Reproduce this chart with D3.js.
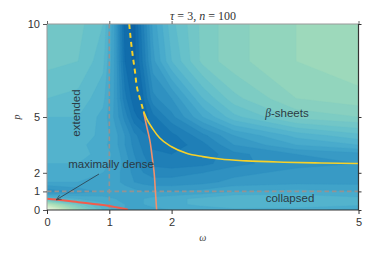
<!DOCTYPE html>
<html>
<head>
<meta charset="utf-8">
<script src="https://cdn.jsdelivr.net/npm/d3@7"></script>
<style>
  body { margin: 0; background: #fff; }
  svg { display: block; }
  text { font-family: "Liberation Sans", Arial, sans-serif; }
</style>
</head>
<body>
<div id="chart"></div>
<script>
// grid columns (omega) and rows (p) for the contour field
var omegaCols = [0, 0.5, 0.9, 1.1, 1.25, 1.4, 1.55, 1.7, 2.0, 2.5, 3, 4, 5];
var pRows = [0, 0.3, 0.6, 1, 1.5, 2, 2.5, 3, 3.5, 4, 5, 6, 8, 10];

// field level (0 light .. 1 dark), one row per p value
var fieldRows = [
  [0.02, 0.42, 0.60, 0.64, 0.66, 0.67, 0.67, 0.67, 0.66, 0.65, 0.64, 0.65, 0.67],
  [0.30, 0.52, 0.62, 0.65, 0.66, 0.66, 0.66, 0.65, 0.64, 0.62, 0.60, 0.60, 0.62],
  [0.58, 0.63, 0.65, 0.66, 0.66, 0.66, 0.66, 0.65, 0.64, 0.62, 0.60, 0.60, 0.62],
  [0.74, 0.71, 0.68, 0.67, 0.67, 0.68, 0.69, 0.69, 0.69, 0.68, 0.66, 0.65, 0.66],
  [0.66, 0.66, 0.67, 0.68, 0.70, 0.72, 0.73, 0.74, 0.74, 0.73, 0.71, 0.70, 0.70],
  [0.63, 0.64, 0.66, 0.68, 0.70, 0.73, 0.75, 0.76, 0.76, 0.75, 0.73, 0.71, 0.70],
  [0.63, 0.63, 0.65, 0.67, 0.70, 0.74, 0.77, 0.79, 0.80, 0.79, 0.76, 0.73, 0.72],
  [0.62, 0.62, 0.64, 0.67, 0.71, 0.75, 0.78, 0.80, 0.81, 0.80, 0.76, 0.72, 0.70],
  [0.61, 0.62, 0.65, 0.68, 0.72, 0.76, 0.79, 0.82, 0.83, 0.79, 0.72, 0.66, 0.63],
  [0.60, 0.61, 0.64, 0.68, 0.72, 0.77, 0.80, 0.82, 0.82, 0.76, 0.69, 0.62, 0.58],
  [0.60, 0.60, 0.64, 0.70, 0.76, 0.83, 0.86, 0.82, 0.76, 0.66, 0.58, 0.50, 0.48],
  [0.57, 0.58, 0.62, 0.70, 0.80, 0.86, 0.84, 0.76, 0.72, 0.60, 0.52, 0.45, 0.43],
  [0.53, 0.54, 0.59, 0.70, 0.84, 0.88, 0.80, 0.70, 0.60, 0.50, 0.46, 0.42, 0.40],
  [0.52, 0.53, 0.57, 0.70, 0.86, 0.88, 0.78, 0.68, 0.58, 0.50, 0.46, 0.42, 0.39]
];

// boundary lines [omega, p]
var yellowDashed = [[1.32, 10], [1.35, 9], [1.38, 8.2], [1.41, 7.5], [1.45, 6.5], [1.50, 5.9], [1.55, 5.3]];
var yellowSolid = [[1.55, 5.3], [1.60, 4.9], [1.70, 4.35], [1.81, 3.87], [2.0, 3.4], [2.24, 3.05], [2.5, 2.87],
  [2.78, 2.74], [3.2, 2.64], [3.8, 2.57], [4.4, 2.53], [5, 2.5]];
var orangeLine = [[1.55, 5.25], [1.60, 4.5], [1.65, 3.76], [1.69, 2.8], [1.72, 1.99], [1.74, 1], [1.76, 0]];
var redLine = [[0, 0.6], [0.25, 0.52], [0.5, 0.42], [0.75, 0.32], [1, 0.22], [1.15, 0.12], [1.3, 0.02]];

var xTicks = [0, 1, 2, 5];
var yTicks = [0, 1, 2, 5, 10];

var width = 374;
var height = 257;
var plotLeft = 47, plotRight = 358.5, plotTop = 24, plotBottom = 210;

var svg = d3.select('#chart').append('svg')
    .attr('width', width)
    .attr('height', height);

var xScale = d3.scaleLinear().domain([0, 5]).range([plotLeft, plotRight]);
var yScale = d3.scaleLinear().domain([0, 10]).range([plotBottom, plotTop]);

// grid index -> data value
var nx = omegaCols.length, ny = pRows.length;
var colScale = d3.scaleLinear().domain(d3.range(nx)).range(omegaCols).clamp(true);
var rowScale = d3.scaleLinear().domain(d3.range(ny)).range(pRows).clamp(true);

var values = [];
fieldRows.forEach(row => row.forEach(v => values.push(v)));

var step = 0.03;
var thresholds = d3.range(0, 1, step);
var color = d3.scaleSequential(d3.interpolateGnBu).domain([0, 1]);

var contours = d3.contours().size([nx, ny]).thresholds(thresholds)(values);

var proj = d3.geoTransform({
    point: function(x, y) {
        this.stream.point(xScale(colScale(x - 0.5)), yScale(rowScale(y - 0.5)));
    }
});

svg.append('clipPath').attr('id', 'plotClip')
    .append('rect')
    .attr('x', plotLeft).attr('y', plotTop)
    .attr('width', plotRight - plotLeft).attr('height', plotBottom - plotTop);

var plot = svg.append('g').attr('clip-path', 'url(#plotClip)');

plot.selectAll('path.band')
    .data(contours)
    .enter()
    .append('path')
    .attr('class', 'band')
    .attr('d', d3.geoPath(proj))
    .attr('fill', d => color(d.value + step / 2))
    .attr('stroke', d => color(d.value + step / 2))
    .attr('stroke-width', 0.3);

// reference dashed lines at omega = 1 and p = 1
plot.append('line')
    .attr('x1', xScale(1)).attr('x2', xScale(1))
    .attr('y1', plotTop).attr('y2', plotBottom)
    .attr('stroke', '#939393').attr('stroke-width', 1.6)
    .attr('stroke-dasharray', '4.5,3');

plot.append('line')
    .attr('x1', plotLeft).attr('x2', plotRight)
    .attr('y1', yScale(1)).attr('y2', yScale(1))
    .attr('stroke', '#939393').attr('stroke-width', 1.6)
    .attr('stroke-dasharray', '4.5,3');

var line = d3.line()
    .x(d => xScale(d[0]))
    .y(d => yScale(d[1]))
    .curve(d3.curveMonotoneY);

var lineX = d3.line()
    .x(d => xScale(d[0]))
    .y(d => yScale(d[1]))
    .curve(d3.curveMonotoneX);

plot.append('path').datum(orangeLine)
    .attr('d', line)
    .attr('fill', 'none').attr('stroke', '#f2906c').attr('stroke-width', 1.6);

plot.append('path').datum(redLine)
    .attr('d', lineX)
    .attr('fill', 'none').attr('stroke', '#f25c4c').attr('stroke-width', 2);

plot.append('path').datum(yellowDashed)
    .attr('d', line)
    .attr('fill', 'none').attr('stroke', '#f6d12a').attr('stroke-width', 2)
    .attr('stroke-dasharray', '5,4');

plot.append('path').datum(yellowSolid)
    .attr('d', lineX)
    .attr('fill', 'none').attr('stroke', '#f6d12a').attr('stroke-width', 1.6);

// spines
svg.append('line').attr('x1', plotLeft).attr('x2', plotRight).attr('y1', plotTop).attr('y2', plotTop)
    .attr('stroke', '#999').attr('stroke-width', 1);
svg.append('line').attr('x1', plotLeft).attr('x2', plotLeft).attr('y1', plotTop).attr('y2', plotBottom)
    .attr('stroke', '#999').attr('stroke-width', 1);
svg.append('line').attr('x1', plotLeft).attr('x2', plotRight).attr('y1', plotBottom).attr('y2', plotBottom)
    .attr('stroke', '#333').attr('stroke-width', 1.2);
svg.append('line').attr('x1', plotRight).attr('x2', plotRight).attr('y1', plotTop).attr('y2', plotBottom)
    .attr('stroke', '#333').attr('stroke-width', 1.2);

// axes
var xAxis = d3.axisBottom(xScale).tickValues(xTicks).tickSize(4).tickPadding(4).tickFormat(d3.format('d'));
var yAxis = d3.axisLeft(yScale).tickValues(yTicks).tickSize(4).tickPadding(3).tickFormat(d3.format('d'));
var xTop = d3.axisTop(xScale).tickValues(xTicks).tickSize(3).tickFormat('');
var yRight = d3.axisRight(yScale).tickValues(yTicks).tickSize(3).tickFormat('');

function styleAxis(g, tickColor) {
    g.select('.domain').remove();
    g.selectAll('.tick line').attr('stroke', tickColor);
    g.selectAll('.tick text')
        .attr('fill', '#333')
        .style('font-size', '11px')
        .style('font-family', '"Liberation Sans", Arial, sans-serif');
}

svg.append('g').attr('transform', `translate(0,${plotBottom})`).call(xAxis).call(g => styleAxis(g, '#333'));
svg.append('g').attr('transform', `translate(${plotLeft},0)`).call(yAxis).call(g => styleAxis(g, '#555'));
svg.append('g').attr('transform', `translate(0,${plotTop})`).call(xTop).call(g => styleAxis(g, '#666'));
svg.append('g').attr('transform', `translate(${plotRight},0)`).call(yRight).call(g => styleAxis(g, '#333'));

// title and axis labels
var title = svg.append('text')
    .attr('x', 203).attr('y', 20)
    .attr('text-anchor', 'middle')
    .style('font-family', '"Liberation Serif", "DejaVu Serif", serif')
    .style('font-size', '12px')
    .attr('fill', '#333');
title.append('tspan').style('font-style', 'italic').text('τ');
title.append('tspan').text(' = 3, ');
title.append('tspan').style('font-style', 'italic').text('n');
title.append('tspan').text(' = 100');

svg.append('text')
    .attr('transform', `translate(20,${(plotTop + plotBottom) / 2}) rotate(-90)`)
    .attr('text-anchor', 'middle')
    .style('font-family', '"Liberation Serif", serif')
    .style('font-style', 'italic')
    .style('font-size', '10px')
    .attr('fill', '#444')
    .text('p');

svg.append('text')
    .attr('x', (plotLeft + plotRight) / 2).attr('y', 241)
    .attr('text-anchor', 'middle')
    .style('font-family', '"Liberation Serif", serif')
    .style('font-style', 'italic')
    .style('font-size', '10px')
    .attr('fill', '#444')
    .text('ω');

// region labels
var labelColor = '#2b3a44';

svg.append('text')
    .attr('transform', `translate(80,113) rotate(-90)`)
    .attr('text-anchor', 'middle')
    .style('font-size', '11.5px')
    .attr('fill', labelColor)
    .text('extended');

var beta = svg.append('text')
    .attr('x', 287).attr('y', 117)
    .attr('text-anchor', 'middle')
    .style('font-size', '11.5px')
    .attr('fill', labelColor);
beta.append('tspan').style('font-family', '"Liberation Serif", serif').style('font-style', 'italic').text('β');
beta.append('tspan').text('-sheets');

svg.append('text')
    .attr('x', 290).attr('y', 202)
    .attr('text-anchor', 'middle')
    .style('font-size', '11.5px')
    .attr('fill', labelColor)
    .text('collapsed');

svg.append('text')
    .attr('x', 111).attr('y', 168)
    .attr('text-anchor', 'middle')
    .style('font-size', '11.5px')
    .attr('fill', labelColor)
    .text('maximally dense');

// annotation arrow
svg.append('defs').append('marker')
    .attr('id', 'arrowHead')
    .attr('viewBox', '0 0 10 10')
    .attr('refX', 9).attr('refY', 5)
    .attr('markerWidth', 7).attr('markerHeight', 7)
    .attr('orient', 'auto')
    .append('path')
    .attr('d', 'M0,1 L9,5 L0,9')
    .attr('fill', 'none')
    .attr('stroke', '#2b3a44')
    .attr('stroke-width', 1.2);

svg.append('line')
    .attr('x1', 99).attr('y1', 174)
    .attr('x2', xScale(0.15)).attr('y2', yScale(0.55))
    .attr('stroke', '#2b3a44').attr('stroke-width', 0.8)
    .attr('marker-end', 'url(#arrowHead)');
</script>
</body>
</html>
